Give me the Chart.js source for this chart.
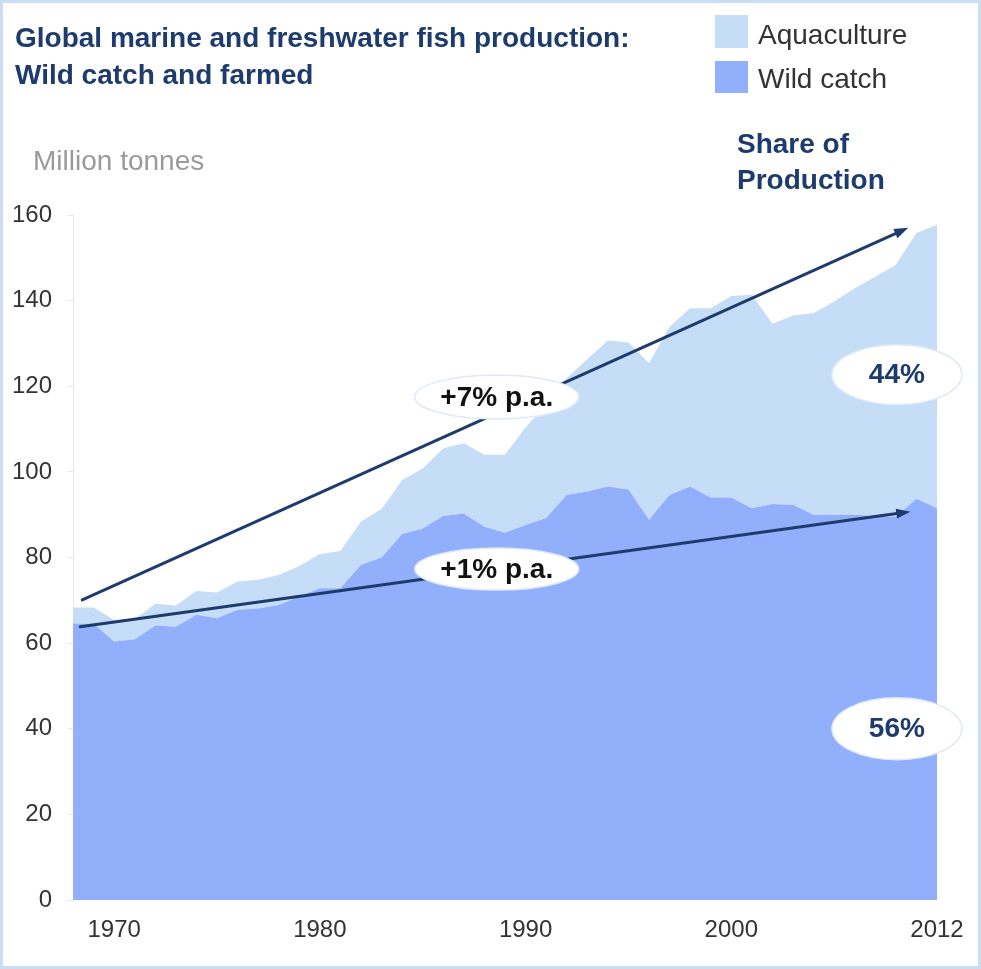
<!DOCTYPE html>
<html>
<head>
<meta charset="utf-8">
<title>Global marine and freshwater fish production</title>
<script src="https://cdn.jsdelivr.net/npm/chart.js@4.4.1/dist/chart.umd.min.js"></script>
<style>
  html, body { margin: 0; padding: 0; background: #fff; }
  canvas { display: block; }
</style>
</head>
<body>
<canvas id="fishChart" width="981" height="969"></canvas>
<script>
// years of data (one point per year)
const years = [1970, 1971, 1972, 1973, 1974, 1975, 1976, 1977, 1978, 1979,
  1980, 1981, 1982, 1983, 1984, 1985, 1986, 1987, 1988, 1989,
  1990, 1991, 1992, 1993, 1994, 1995, 1996, 1997, 1998, 1999,
  2000, 2001, 2002, 2003, 2004, 2005, 2006, 2007, 2008, 2009,
  2010, 2011, 2012];

// million tonnes
const wildCatch = [64.6, 64.5, 60.4, 60.9, 64.1, 63.8, 66.6, 65.8, 67.8, 68.1,
  68.9, 70.9, 72.8, 72.8, 78.3, 80.0, 85.5, 86.8, 89.7, 90.3,
  87.2, 85.8, 87.6, 89.2, 94.6, 95.4, 96.6, 95.9, 88.8, 94.6,
  96.6, 94.0, 94.0, 91.5, 92.5, 92.3, 90.0, 90.0, 90.0, 89.7,
  89.5, 93.7, 91.5];

const aquaculture = [3.7, 3.8, 5.0, 4.7, 5.1, 5.0, 5.6, 6.0, 6.6, 6.7,
  7.0, 7.1, 8.0, 8.7, 10.1, 11.3, 12.6, 14.0, 15.8, 16.4,
  16.8, 18.2, 22.8, 26.3, 27.3, 30.9, 34.1, 34.3, 36.6, 39.3,
  41.6, 44.2, 47.1, 49.9, 42.1, 44.2, 47.1, 49.8, 52.9, 55.9,
  58.9, 62.1, 66.2];

// axis labels as printed on the chart
const xTickLabels = ['1970', '1980', '1990', '2000', '2012'];
const yTicks = [0, 20, 40, 60, 80, 100, 120, 140, 160];

const navy = '#1d3b6c';
const lightBlue = '#c6ddf8';
const midBlue = '#92affb';

function drawArrow(ctx, x1, y1, x2, y2) {
  const a = Math.atan2(y2 - y1, x2 - x1);
  const head = 14, half = 5;
  ctx.beginPath();
  ctx.moveTo(x1, y1);
  ctx.lineTo(x2 - head * 0.7 * Math.cos(a), y2 - head * 0.7 * Math.sin(a));
  ctx.stroke();
  ctx.beginPath();
  ctx.moveTo(x2, y2);
  ctx.lineTo(x2 - head * Math.cos(a) + half * Math.sin(a), y2 - head * Math.sin(a) - half * Math.cos(a));
  ctx.lineTo(x2 - head * Math.cos(a) - half * Math.sin(a), y2 - head * Math.sin(a) + half * Math.cos(a));
  ctx.closePath();
  ctx.fill();
}

function bubble(ctx, cx, cy, rx, ry, text, color) {
  ctx.beginPath();
  ctx.ellipse(cx, cy, rx, ry, 0, 0, Math.PI * 2);
  ctx.fillStyle = '#fff';
  ctx.fill();
  ctx.lineWidth = 1.5;
  ctx.strokeStyle = '#dde9f9';
  ctx.stroke();
  ctx.fillStyle = color;
  ctx.font = 'bold 28px "Liberation Sans", Arial, sans-serif';
  ctx.textAlign = 'center';
  ctx.textBaseline = 'middle';
  ctx.fillText(text, cx, cy + 1);
}

// frame, titles, legend, arrows and labels
const decor = {
  id: 'decor',
  beforeDraw(chart) {
    const ctx = chart.ctx;
    ctx.save();
    ctx.fillStyle = '#fff';
    ctx.fillRect(0, 0, chart.width, chart.height);
    ctx.restore();
  },
  afterDatasetsDraw(chart) {
    const ctx = chart.ctx;
    const x = chart.scales.x, y = chart.scales.y;
    ctx.save();
    ctx.strokeStyle = navy;
    ctx.fillStyle = navy;
    ctx.lineWidth = 3;
    ctx.lineCap = 'round';
    drawArrow(ctx, x.getPixelForValue(0.45), y.getPixelForValue(70.1), x.getPixelForValue(40.6), y.getPixelForValue(157.0));
    drawArrow(ctx, x.getPixelForValue(0.35), y.getPixelForValue(63.8), x.getPixelForValue(40.7), y.getPixelForValue(90.7));

    bubble(ctx, x.getPixelForValue(20.6), y.getPixelForValue(117.5), 82, 22, '+7% p.a.', '#111');
    bubble(ctx, x.getPixelForValue(20.6), y.getPixelForValue(77.3), 82, 21, '+1% p.a.', '#111');
    bubble(ctx, x.getPixelForValue(40.05), y.getPixelForValue(122.7), 65, 30, '44%', navy);
    bubble(ctx, x.getPixelForValue(40.05), y.getPixelForValue(40.0), 65, 31, '56%', navy);
    ctx.restore();
  },
  afterDraw(chart) {
    const ctx = chart.ctx;
    ctx.save();
    // outer frame
    ctx.strokeStyle = '#c9ddf5';
    ctx.lineWidth = 3;
    ctx.strokeRect(1.5, 1.5, chart.width - 3, chart.height - 3);

    ctx.textAlign = 'left';
    ctx.textBaseline = 'alphabetic';
    ctx.fillStyle = navy;
    ctx.font = 'bold 28px "Liberation Sans", Arial, sans-serif';
    ctx.fillText('Global marine and freshwater fish production:', 15, 47);
    ctx.fillText('Wild catch and farmed', 15, 84);

    ctx.fillText('Share of', 737, 153);
    ctx.fillText('Production', 737, 189);

    ctx.fillStyle = '#9a9a9a';
    ctx.font = '28px "Liberation Sans", Arial, sans-serif';
    ctx.fillText('Million tonnes', 33, 170);

    // legend
    ctx.fillStyle = lightBlue;
    ctx.fillRect(715, 15, 33, 33);
    ctx.fillStyle = midBlue;
    ctx.fillRect(715, 61, 33, 32);
    ctx.fillStyle = '#333';
    ctx.fillText('Aquaculture', 758, 44);
    ctx.fillText('Wild catch', 758, 88);
    ctx.restore();
  }
};

new Chart(document.getElementById('fishChart'), {
  type: 'line',
  data: {
    labels: years,
    datasets: [{
      label: 'Wild catch',
      data: wildCatch,
      backgroundColor: midBlue,
      borderWidth: 0,
      pointRadius: 0,
      fill: 'origin',
      tension: 0
    }, {
      label: 'Aquaculture',
      data: aquaculture,
      backgroundColor: lightBlue,
      borderWidth: 0,
      pointRadius: 0,
      fill: '-1',
      tension: 0
    }]
  },
  options: {
    responsive: false,
    animation: false,
    devicePixelRatio: 1,
    layout: { padding: { top: 215, right: 44, left: 0, bottom: 0 } },
    plugins: {
      legend: { display: false },
      tooltip: { enabled: false }
    },
    scales: {
      x: {
        offset: false,
        grid: { display: false, drawTicks: false },
        border: { display: false },
        ticks: {
          autoSkip: false,
          maxRotation: 0,
          padding: 16,
          color: '#333',
          font: { family: '"Liberation Sans", Arial, sans-serif', size: 24 },
          callback: (val, i) => (i >= 2 && (i - 2) % 10 === 0) ? xTickLabels[(i - 2) / 10] : ''
        },
        afterFit: s => { s.height = 69; }
      },
      y: {
        stacked: true,
        min: 0,
        max: 160,
        afterBuildTicks: s => { s.ticks = yTicks.map(v => ({ value: v })); },
        grid: { drawOnChartArea: false, tickLength: 5, color: '#e6e6e6' },
        border: { color: '#e6e6e6' },
        ticks: {
          padding: 16,
          color: '#333',
          font: { family: '"Liberation Sans", Arial, sans-serif', size: 24 }
        },
        afterFit: s => { s.width = 73; }
      }
    }
  },
  plugins: [decor]
});
</script>
</body>
</html>
